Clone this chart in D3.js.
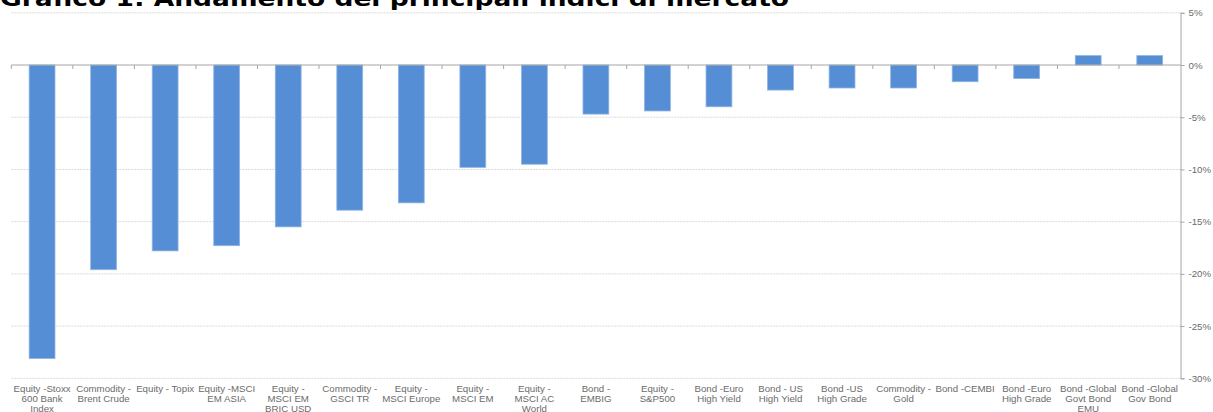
<!DOCTYPE html>
<html>
<head>
<meta charset="utf-8">
<script src="https://cdn.jsdelivr.net/npm/d3@7"></script>
<style>
    html, body { margin: 0; padding: 0; background: #fff; overflow: hidden; }
</style>
</head>
<body>
<div id="chart"></div>
<script>
// categories (line breaks as in the original labels)
const categories = [
    'Equity -Stoxx\n600 Bank\nIndex',
    'Commodity -\nBrent Crude',
    'Equity - Topix',
    'Equity -MSCI\nEM ASIA',
    'Equity -\nMSCI EM\nBRIC USD',
    'Commodity -\nGSCI TR',
    'Equity -\nMSCI Europe',
    'Equity -\nMSCI EM',
    'Equity -\nMSCI AC\nWorld',
    'Bond -\nEMBIG',
    'Equity -\nS&P500',
    'Bond -Euro\nHigh Yield',
    'Bond - US\nHigh Yield',
    'Bond -US\nHigh Grade',
    'Commodity -\nGold',
    'Bond -CEMBI',
    'Bond -Euro\nHigh Grade',
    'Bond -Global\nGovt Bond\nEMU',
    'Bond -Global\nGov Bond'
];
const values = [-28.1, -19.6, -17.8, -17.3, -15.5, -13.9, -13.2, -9.8, -9.5,
    -4.7, -4.4, -4.0, -2.4, -2.2, -2.2, -1.6, -1.3, 0.9, 0.9];
const yTicks = [5, 0, -5, -10, -15, -20, -25, -30];
const title = 'Grafico 1: Andamento dei principali indici di mercato';

const svgWidth = 1213;
const svgHeight = 412;

const svg = d3.select('#chart')
    .append('svg')
    .attr('width', svgWidth)
    .attr('height', svgHeight)
    .style('font-family', '"Liberation Sans", Arial, sans-serif');

const plot = {l: 11.3, r: 1180.5, t: 12.8, b: 378.3};

const x = d3.scaleBand()
    .domain(categories)
    .range([plot.l, plot.r])
    .paddingInner(0.58)
    .paddingOuter(0.29);

const y = d3.scaleLinear()
    .domain([5, -30])
    .range([plot.t, plot.b]);

//gridlines
svg.append('g')
    .selectAll('line.grid')
    .data(yTicks.filter(d => d !== 0))
    .join('line')
    .attr('class', 'grid')
    .attr('x1', plot.l)
    .attr('x2', plot.r)
    .attr('y1', d => y(d))
    .attr('y2', d => y(d))
    .attr('stroke', '#d9d9d9')
    .attr('stroke-width', 1)
    .attr('stroke-dasharray', '2,1');

//bars
svg.append('g')
    .selectAll('rect.bar')
    .data(values)
    .join('rect')
    .attr('class', 'bar')
    .attr('x', (d, i) => x(categories[i]))
    .attr('width', x.bandwidth())
    .attr('y', d => y(Math.max(0, d)))
    .attr('height', d => Math.abs(y(d) - y(0)))
    .attr('fill', '#558ed5')
    .attr('stroke', '#8fb4e3')
    .attr('stroke-width', 0.8);

//zero line with category boundary ticks
const zero = svg.append('g').attr('transform', `translate(0,${y(0)})`);
zero.append('line')
    .attr('x1', plot.l)
    .attr('x2', plot.r)
    .attr('stroke', '#a6a6a6')
    .attr('stroke-width', 1);
zero.selectAll('line.cat-tick')
    .data(d3.range(categories.length))
    .join('line')
    .attr('class', 'cat-tick')
    .attr('x1', i => x.range()[0] + i * x.step())
    .attr('x2', i => x.range()[0] + i * x.step())
    .attr('y1', 0)
    .attr('y2', 4)
    .attr('stroke', '#a6a6a6');

//right axis
svg.append('g')
    .attr('class', 'y-axis')
    .attr('transform', `translate(${plot.r},0)`)
    .call(d3.axisRight(y).tickValues(yTicks).tickFormat(d => d + '%').tickSize(4).tickPadding(4))
    .call(g => g.select('.domain').attr('stroke', '#a6a6a6'))
    .call(g => g.selectAll('.tick line').attr('stroke', '#a6a6a6'))
    .call(g => g.selectAll('.tick text')
        .attr('fill', '#6b6b6b')
        .style('font-size', '9.7px')
        .style('font-family', '"Liberation Sans", Arial, sans-serif'));

//category labels at the bottom
svg.append('g')
    .attr('class', 'x-axis')
    .attr('transform', `translate(0,${plot.b})`)
    .call(d3.axisBottom(x).tickSize(0).tickPadding(0).tickFormat(''))
    .call(g => g.select('.domain').remove())
    .call(g => g.selectAll('.tick text')
        .attr('fill', '#6b6b6b')
        .attr('y', 0)
        .attr('dy', 0)
        .style('font-size', '9.7px')
        .style('font-family', '"Liberation Sans", Arial, sans-serif')
        .each(function (d) {
            const t = d3.select(this);
            d.split('\n').forEach((line, k) => {
                t.append('tspan')
                    .attr('x', 0)
                    .attr('y', 13.7 + k * 10)
                    .text(line);
            });
        }));

//title
svg.append('text')
    .attr('x', 0)
    .attr('y', 6)
    .attr('textLength', 789)
    .attr('lengthAdjust', 'spacingAndGlyphs')
    .style('font-family', '"DejaVu Sans", Verdana, sans-serif')
    .style('font-weight', 'bold')
    .style('font-size', '22px')
    .style('fill', '#000')
    .text(title);
</script>
</body>
</html>
